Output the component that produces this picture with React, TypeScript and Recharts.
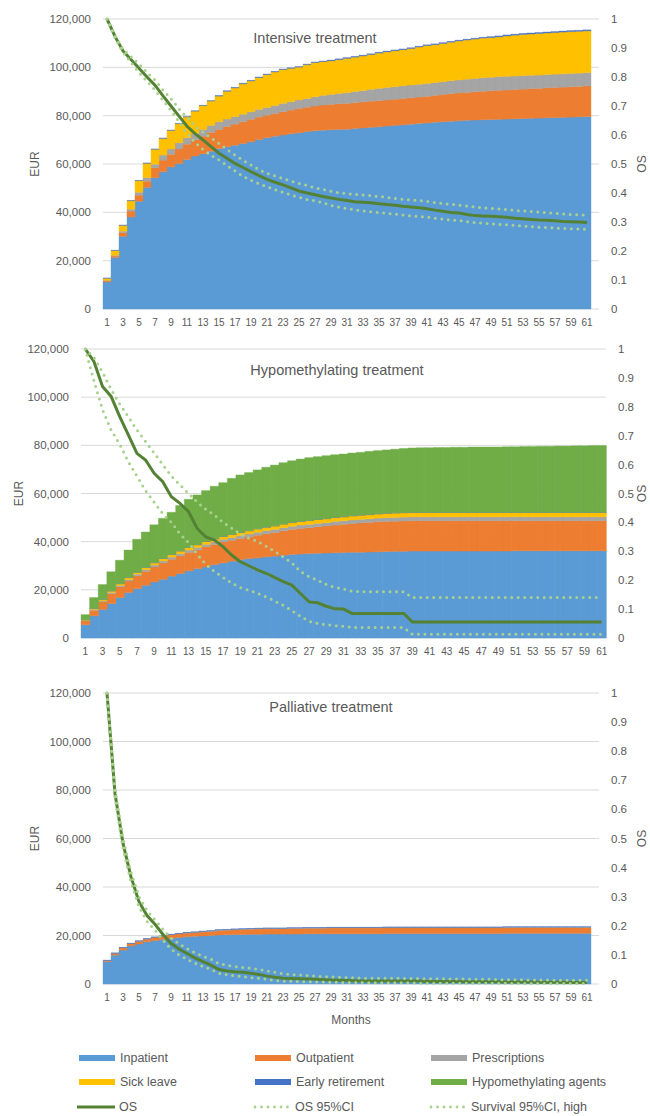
import React from 'react';
import { ComposedChart, Bar, Line, XAxis, YAxis, CartesianGrid } from 'recharts';

// cost values are cumulative EUR per patient, in thousands
const months = Array.from({ length: 61 }, (_, i) => String(i + 1));
const eurTicks = [0, 20, 40, 60, 80, 100, 120];
const osTicks = [0, 0.1, 0.2, 0.3, 0.4, 0.5, 0.6, 0.7, 0.8, 0.9, 1];

// ---- Intensive treatment
const intInpatient = [
	11.2, 21.3, 30.1, 38.1, 44.6, 50.3, 54.3, 56.8, 58.8, 60.2,
	61.9, 63.3, 64.2, 65.3, 66.4, 67.1, 67.8, 68.5, 69.2, 70.1,
	70.9, 71.5, 72.0, 72.5, 72.9, 73.4, 73.8, 74.0, 74.2, 74.3,
	74.4, 74.7, 74.9, 75.2, 75.4, 75.7, 76.0, 76.2, 76.5, 76.8,
	77.0, 77.3, 77.5, 77.7, 77.9, 78.1, 78.2, 78.3, 78.4, 78.5,
	78.6, 78.7, 78.8, 78.9, 79.0, 79.1, 79.2, 79.3, 79.4, 79.5, 79.6,
];
const intOutpatient = [
	0.5, 0.6, 1.5, 2.4, 2.5, 2.6, 4.1, 4.8, 5.2, 6.0,
	6.3, 6.7, 7.3, 7.7, 7.9, 8.4, 8.7, 9.0, 9.3, 9.3,
	9.3, 9.4, 9.6, 9.8, 10.1, 10.1, 10.2, 10.4, 10.5, 10.6,
	10.7, 10.7, 10.8, 10.8, 10.8, 10.8, 10.8, 10.9, 10.9, 10.9,
	11.0, 11.1, 11.3, 11.4, 11.5, 11.5, 11.7, 11.8, 11.9, 12.0,
	12.0, 12.1, 12.2, 12.3, 12.3, 12.4, 12.5, 12.5, 12.6, 12.6, 12.7,
];
const intPrescriptions = [
	0.2, 0.3, 0.6, 0.8, 1.2, 1.5, 1.5, 2.1, 2.2, 2.6,
	2.7, 2.7, 2.8, 3.0, 3.2, 3.1, 3.1, 3.1, 3.1, 3.2,
	3.2, 3.3, 3.5, 3.5, 3.5, 3.6, 3.8, 4.0, 4.1, 4.3,
	4.4, 4.6, 4.7, 4.9, 5.1, 5.2, 5.2, 5.3, 5.3, 5.3,
	5.3, 5.3, 5.3, 5.4, 5.4, 5.5, 5.5, 5.6, 5.6, 5.7,
	5.7, 5.6, 5.6, 5.5, 5.5, 5.5, 5.5, 5.5, 5.5, 5.5, 5.5,
];
const intSickLeave = [
	0.8, 2.0, 2.4, 3.5, 4.8, 5.9, 6.2, 6.9, 7.7, 7.9,
	8.6, 9.2, 9.9, 10.1, 10.6, 11.5, 11.9, 12.6, 12.8, 13.2,
	13.6, 13.9, 14.0, 13.8, 13.6, 14.0, 14.2, 14.0, 13.9, 14.0,
	14.2, 14.2, 14.3, 14.4, 14.6, 14.7, 14.9, 14.9, 15.1, 15.4,
	15.7, 15.7, 15.8, 15.9, 16.1, 16.2, 16.3, 16.4, 16.4, 16.4,
	16.7, 16.9, 17.0, 17.1, 17.2, 17.2, 17.2, 17.3, 17.3, 17.3, 17.3,
];
const intEarlyRetirement = [
	0.1, 0.1, 0.1, 0.1, 0.1, 0.1, 0.1, 0.1, 0.1, 0.1,
	0.1, 0.1, 0.1, 0.1, 0.2, 0.2, 0.2, 0.2, 0.2, 0.2,
	0.2, 0.2, 0.2, 0.2, 0.2, 0.2, 0.2, 0.2, 0.3, 0.3,
	0.3, 0.3, 0.3, 0.3, 0.3, 0.3, 0.3, 0.3, 0.3, 0.3,
	0.3, 0.3, 0.3, 0.3, 0.3, 0.3, 0.3, 0.3, 0.4, 0.4,
	0.4, 0.4, 0.4, 0.4, 0.4, 0.4, 0.4, 0.4, 0.4, 0.4, 0.4,
];
const intHma = [
	0, 0, 0, 0, 0, 0, 0, 0, 0, 0, 0, 0, 0, 0, 0, 0, 0, 0, 0, 0,
	0, 0, 0, 0, 0, 0, 0, 0, 0, 0, 0, 0, 0, 0, 0, 0, 0, 0, 0, 0,
	0, 0, 0, 0, 0, 0, 0, 0, 0, 0, 0, 0, 0, 0, 0, 0, 0, 0, 0, 0, 0,
];
const intOs = [
	1.0, 0.94, 0.89, 0.86, 0.83, 0.8, 0.772, 0.735, 0.7, 0.665,
	0.63, 0.605, 0.583, 0.56, 0.537, 0.52, 0.502, 0.488, 0.474, 0.46,
	0.447, 0.437, 0.428, 0.418, 0.407, 0.4, 0.394, 0.388, 0.383, 0.378,
	0.374, 0.37, 0.368, 0.366, 0.363, 0.36, 0.358, 0.354, 0.352, 0.349,
	0.346, 0.341, 0.337, 0.333, 0.331, 0.326, 0.322, 0.321, 0.32, 0.318,
	0.316, 0.313, 0.311, 0.309, 0.307, 0.306, 0.304, 0.302, 0.301, 0.3, 0.298,
];
const intOsLow = [
	1.0, 0.935, 0.885, 0.85, 0.815, 0.785, 0.755, 0.72, 0.685, 0.645,
	0.605, 0.575, 0.55, 0.53, 0.514, 0.495, 0.476, 0.458, 0.444, 0.432,
	0.422, 0.411, 0.402, 0.393, 0.385, 0.378, 0.373, 0.366, 0.357, 0.351,
	0.346, 0.342, 0.338, 0.335, 0.332, 0.33, 0.327, 0.324, 0.321, 0.319,
	0.317, 0.313, 0.31, 0.307, 0.305, 0.301, 0.298, 0.296, 0.294, 0.292,
	0.29, 0.288, 0.286, 0.284, 0.282, 0.281, 0.279, 0.278, 0.277, 0.276, 0.275,
];
const intOsHigh = [
	1.0, 0.945, 0.895, 0.87, 0.845, 0.815, 0.79, 0.755, 0.725, 0.69,
	0.66, 0.63, 0.61, 0.59, 0.571, 0.55, 0.531, 0.513, 0.497, 0.48,
	0.468, 0.459, 0.45, 0.441, 0.433, 0.426, 0.418, 0.412, 0.406, 0.401,
	0.398, 0.395, 0.393, 0.391, 0.388, 0.385, 0.381, 0.378, 0.376, 0.374,
	0.371, 0.367, 0.364, 0.361, 0.358, 0.355, 0.352, 0.349, 0.347, 0.345,
	0.343, 0.34, 0.338, 0.336, 0.334, 0.332, 0.33, 0.328, 0.326, 0.325, 0.323,
];

// ---- Hypomethylating treatment
const hypInpatient = [
	5.5, 9.2, 11.9, 14.3, 16.8, 18.9, 20.5, 21.9, 23.3, 24.4,
	25.7, 26.8, 27.9, 28.8, 29.5, 30.5, 31.2, 31.9, 32.6, 33.0,
	33.3, 33.7, 34.0, 34.4, 34.7, 34.9, 35.1, 35.2, 35.3, 35.4,
	35.5, 35.6, 35.6, 35.7, 35.8, 35.9, 36.0, 36.0, 36.1, 36.1,
	36.1, 36.1, 36.1, 36.1, 36.1, 36.1, 36.1, 36.1, 36.1, 36.1,
	36.2, 36.2, 36.2, 36.2, 36.2, 36.2, 36.2, 36.2, 36.2, 36.2, 36.2,
];
const hypOutpatient = [
	1.6, 2.3, 3.1, 4.1, 4.4, 4.8, 5.3, 5.8, 6.2, 6.8,
	7.0, 7.3, 7.6, 7.8, 8.4, 8.3, 8.7, 8.7, 8.7, 9.0,
	9.4, 9.6, 9.8, 10.1, 10.4, 10.6, 10.7, 11.0, 11.2, 11.5,
	11.7, 11.9, 12.2, 12.3, 12.5, 12.5, 12.5, 12.6, 12.6, 12.6,
	12.6, 12.6, 12.6, 12.6, 12.6, 12.6, 12.6, 12.6, 12.6, 12.6,
	12.5, 12.5, 12.5, 12.5, 12.5, 12.5, 12.5, 12.5, 12.5, 12.5, 12.5,
];
const hypPrescriptions = [
	0.2, 0.3, 0.4, 0.5, 0.6, 0.6, 0.7, 0.7, 0.8, 0.8,
	0.9, 0.9, 1.0, 1.0, 1.0, 1.1, 1.1, 1.1, 1.2, 1.2,
	1.2, 1.3, 1.3, 1.3, 1.3, 1.4, 1.4, 1.4, 1.4, 1.5,
	1.5, 1.5, 1.5, 1.5, 1.5, 1.6, 1.6, 1.6, 1.6, 1.6,
	1.6, 1.6, 1.6, 1.6, 1.6, 1.6, 1.6, 1.6, 1.6, 1.6,
	1.6, 1.6, 1.6, 1.6, 1.6, 1.6, 1.6, 1.6, 1.6, 1.6, 1.6,
];
const hypSickLeave = [
	0.2, 0.4, 0.5, 0.6, 0.7, 0.8, 0.8, 0.9, 0.9, 1.0,
	1.0, 1.1, 1.1, 1.1, 1.2, 1.2, 1.2, 1.3, 1.3, 1.3,
	1.4, 1.4, 1.4, 1.5, 1.5, 1.5, 1.5, 1.6, 1.6, 1.6,
	1.6, 1.7, 1.7, 1.7, 1.7, 1.8, 1.8, 1.8, 1.8, 1.8,
	1.8, 1.8, 1.8, 1.8, 1.8, 1.8, 1.8, 1.8, 1.8, 1.8,
	1.8, 1.8, 1.8, 1.8, 1.8, 1.8, 1.8, 1.8, 1.8, 1.8, 1.8,
];
const hypEarlyRetirement = [
	0.1, 0.1, 0.1, 0.1, 0.1, 0.1, 0.1, 0.1, 0.1, 0.1, 0.1, 0.1, 0.1, 0.1, 0.1, 0.1, 0.1, 0.1, 0.1, 0.1,
	0.1, 0.1, 0.1, 0.1, 0.1, 0.1, 0.1, 0.1, 0.1, 0.1, 0.1, 0.1, 0.1, 0.1, 0.1, 0.1, 0.1, 0.1, 0.1, 0.1,
	0.1, 0.1, 0.1, 0.1, 0.1, 0.1, 0.1, 0.1, 0.1, 0.1, 0.1, 0.1, 0.1, 0.1, 0.1, 0.1, 0.1, 0.1, 0.1, 0.1, 0.1,
];
const hypHma = [
	2.1, 4.5, 6.2, 7.9, 9.7, 11.3, 13.6, 14.6, 15.7, 16.6,
	17.5, 18.8, 19.9, 20.6, 21.0, 21.8, 22.2, 23.2, 23.8, 24.1,
	24.4, 24.8, 25.2, 25.4, 25.6, 25.8, 26.1, 26.0, 26.1, 26.0,
	26.0, 26.0, 26.0, 26.2, 26.2, 26.2, 26.4, 26.6, 26.7, 26.8,
	26.8, 26.9, 26.9, 27.0, 27.0, 27.1, 27.1, 27.1, 27.1, 27.2,
	27.2, 27.3, 27.3, 27.4, 27.4, 27.5, 27.5, 27.6, 27.6, 27.7, 27.7,
];
const hypOs = [
	1.0, 0.957, 0.87, 0.836, 0.766, 0.703, 0.639, 0.616, 0.57, 0.541,
	0.489, 0.466, 0.437, 0.379, 0.35, 0.339, 0.316, 0.287, 0.264, 0.25,
	0.236, 0.224, 0.21, 0.195, 0.183, 0.154, 0.125, 0.122, 0.11, 0.101,
	0.1, 0.085, 0.085, 0.085, 0.085, 0.085, 0.085, 0.085, 0.055, 0.055,
	0.055, 0.055, 0.055, 0.055, 0.055, 0.055, 0.055, 0.055, 0.055, 0.055,
	0.055, 0.055, 0.055, 0.055, 0.055, 0.055, 0.055, 0.055, 0.055, 0.055, 0.055,
];
const hypOsLow = [
	1.0, 0.89, 0.79, 0.72, 0.67, 0.61, 0.56, 0.51, 0.47, 0.43,
	0.4, 0.36, 0.33, 0.29, 0.255, 0.23, 0.21, 0.19, 0.175, 0.165,
	0.155, 0.142, 0.128, 0.113, 0.095, 0.075, 0.058, 0.05, 0.046, 0.043,
	0.04, 0.037, 0.036, 0.036, 0.036, 0.036, 0.036, 0.036, 0.013, 0.013,
	0.013, 0.013, 0.013, 0.013, 0.013, 0.013, 0.013, 0.013, 0.013, 0.013,
	0.013, 0.013, 0.013, 0.013, 0.013, 0.013, 0.013, 0.013, 0.013, 0.013, 0.013,
];
const hypOsHigh = [
	1.0, 0.97, 0.92, 0.86, 0.81, 0.765, 0.72, 0.68, 0.64, 0.6,
	0.56, 0.53, 0.5, 0.47, 0.445, 0.425, 0.4, 0.38, 0.36, 0.345,
	0.335, 0.318, 0.3, 0.28, 0.26, 0.23, 0.212, 0.2, 0.185, 0.175,
	0.17, 0.162, 0.16, 0.16, 0.16, 0.16, 0.16, 0.16, 0.14, 0.14,
	0.14, 0.14, 0.14, 0.14, 0.14, 0.14, 0.14, 0.14, 0.14, 0.14,
	0.14, 0.14, 0.14, 0.14, 0.14, 0.14, 0.14, 0.14, 0.14, 0.14, 0.14,
];

// ---- Palliative treatment
const palInpatient = [
	9.2, 11.9, 14.0, 15.7, 16.5, 17.4, 17.9, 18.4, 18.8, 19.2,
	19.5, 19.7, 19.8, 20.0, 20.2, 20.3, 20.4, 20.4, 20.5, 20.5,
	20.6, 20.6, 20.6, 20.6, 20.6, 20.7, 20.7, 20.7, 20.7, 20.7,
	20.7, 20.7, 20.7, 20.7, 20.7, 20.8, 20.8, 20.8, 20.8, 20.8,
	20.8, 20.8, 20.8, 20.8, 20.8, 20.8, 20.8, 20.8, 20.8, 20.8,
	20.9, 20.9, 20.9, 20.9, 20.9, 20.9, 20.9, 20.9, 20.9, 20.9, 20.9,
];
const palOutpatient = [
	0.4, 0.7, 0.9, 0.9, 1.1, 1.1, 1.3, 1.3, 1.5, 1.5,
	1.5, 1.5, 1.7, 1.7, 1.9, 1.9, 2.0, 2.1, 2.1, 2.2,
	2.2, 2.2, 2.2, 2.3, 2.3, 2.3, 2.3, 2.3, 2.4, 2.4,
	2.4, 2.4, 2.4, 2.4, 2.4, 2.4, 2.4, 2.4, 2.4, 2.4,
	2.4, 2.4, 2.4, 2.4, 2.4, 2.4, 2.4, 2.4, 2.4, 2.4,
	2.4, 2.4, 2.4, 2.4, 2.4, 2.4, 2.4, 2.4, 2.4, 2.4, 2.4,
];
const palPrescriptions = [
	0.1, 0.1, 0.1, 0.1, 0.1, 0.1, 0.1, 0.1, 0.1, 0.1, 0.2, 0.2, 0.2, 0.2, 0.2, 0.2, 0.2, 0.2, 0.2, 0.2,
	0.2, 0.2, 0.2, 0.2, 0.2, 0.2, 0.2, 0.2, 0.2, 0.2, 0.2, 0.2, 0.2, 0.2, 0.2, 0.2, 0.2, 0.2, 0.2, 0.2,
	0.2, 0.2, 0.2, 0.2, 0.2, 0.2, 0.2, 0.2, 0.2, 0.2, 0.2, 0.2, 0.2, 0.2, 0.2, 0.2, 0.2, 0.2, 0.2, 0.2, 0.2,
];
const palSickLeave = [
	0, 0, 0, 0, 0, 0, 0, 0, 0, 0, 0, 0, 0, 0, 0, 0, 0, 0, 0, 0,
	0, 0, 0, 0, 0, 0, 0, 0, 0, 0, 0, 0, 0, 0, 0, 0, 0, 0, 0, 0,
	0, 0, 0, 0, 0, 0, 0, 0, 0, 0, 0, 0, 0, 0, 0, 0, 0, 0, 0, 0, 0,
];
const palEarlyRetirement = [
	0.1, 0.1, 0.1, 0.1, 0.1, 0.1, 0.1, 0.1, 0.1, 0.1, 0.1, 0.1, 0.1, 0.1, 0.1, 0.1, 0.1, 0.1, 0.1, 0.1,
	0.1, 0.1, 0.1, 0.1, 0.1, 0.1, 0.1, 0.1, 0.1, 0.1, 0.1, 0.1, 0.1, 0.1, 0.1, 0.1, 0.1, 0.1, 0.1, 0.1,
	0.1, 0.1, 0.1, 0.1, 0.1, 0.1, 0.1, 0.1, 0.1, 0.1, 0.1, 0.1, 0.1, 0.1, 0.1, 0.1, 0.1, 0.1, 0.1, 0.1, 0.1,
];
const palHma = intHma;
const palOs = [
	1.0, 0.654, 0.483, 0.368, 0.283, 0.235, 0.205, 0.17, 0.14, 0.12,
	0.105, 0.09, 0.077, 0.065, 0.05, 0.045, 0.042, 0.04, 0.037, 0.033,
	0.027, 0.023, 0.02, 0.019, 0.018, 0.017, 0.016, 0.015, 0.014, 0.013,
	0.012, 0.011, 0.01, 0.01, 0.01, 0.01, 0.01, 0.01, 0.01, 0.01,
	0.009, 0.009, 0.009, 0.009, 0.009, 0.008, 0.008, 0.008, 0.008, 0.008,
	0.007, 0.007, 0.007, 0.007, 0.006, 0.006, 0.006, 0.006, 0.005, 0.005, 0.005,
];
const palOsLow = [
	1.0, 0.64, 0.465, 0.35, 0.265, 0.215, 0.185, 0.15, 0.12, 0.1,
	0.085, 0.072, 0.06, 0.05, 0.037, 0.032, 0.028, 0.025, 0.022, 0.02,
	0.016, 0.012, 0.01, 0.009, 0.008, 0.008, 0.007, 0.007, 0.006, 0.006,
	0.005, 0.005, 0.005, 0.004, 0.004, 0.004, 0.004, 0.004, 0.004, 0.003,
	0.003, 0.003, 0.003, 0.003, 0.003, 0.003, 0.003, 0.003, 0.003, 0.003,
	0.002, 0.002, 0.002, 0.002, 0.002, 0.002, 0.002, 0.002, 0.002, 0.002, 0.002,
];
const palOsHigh = [
	1.0, 0.67, 0.5, 0.385, 0.3, 0.252, 0.22, 0.188, 0.158, 0.138,
	0.122, 0.107, 0.095, 0.085, 0.07, 0.064, 0.06, 0.057, 0.054, 0.05,
	0.045, 0.04, 0.035, 0.033, 0.031, 0.029, 0.027, 0.025, 0.024, 0.023,
	0.022, 0.021, 0.02, 0.02, 0.02, 0.02, 0.02, 0.019, 0.019, 0.019,
	0.018, 0.018, 0.018, 0.017, 0.017, 0.017, 0.016, 0.016, 0.016, 0.015,
	0.015, 0.015, 0.014, 0.014, 0.014, 0.014, 0.013, 0.013, 0.013, 0.013, 0.013,
];

const SERIES = [
	{ key: 'inpatient', name: 'Inpatient', color: '#5B9BD5' },
	{ key: 'outpatient', name: 'Outpatient', color: '#ED7D31' },
	{ key: 'prescriptions', name: 'Prescriptions', color: '#A5A5A5' },
	{ key: 'sickLeave', name: 'Sick leave', color: '#FFC000' },
	{ key: 'earlyRetirement', name: 'Early retirement', color: '#4472C4' },
	{ key: 'hma', name: 'Hypomethylating agents', color: '#70AD47' },
];

const OS_COLOR = '#548235';
const CI_COLOR = '#A9D18E';
const TEXT = '#595959';
const FONT = "'Liberation Sans', Arial, sans-serif";

const buildRows = (cols: Record<string, number[]>) =>
	months.map((m, i) => {
		const row: Record<string, any> = { month: m };
		Object.keys(cols).forEach((k) => (row[k] = cols[k][i]));
		return row;
	});

const intensiveRows = buildRows({
	inpatient: intInpatient, outpatient: intOutpatient, prescriptions: intPrescriptions,
	sickLeave: intSickLeave, earlyRetirement: intEarlyRetirement, hma: intHma,
	os: intOs, osLow: intOsLow, osHigh: intOsHigh,
});
const hypoRows = buildRows({
	inpatient: hypInpatient, outpatient: hypOutpatient, prescriptions: hypPrescriptions,
	sickLeave: hypSickLeave, earlyRetirement: hypEarlyRetirement, hma: hypHma,
	os: hypOs, osLow: hypOsLow, osHigh: hypOsHigh,
});
const palliativeRows = buildRows({
	inpatient: palInpatient, outpatient: palOutpatient, prescriptions: palPrescriptions,
	sickLeave: palSickLeave, earlyRetirement: palEarlyRetirement, hma: palHma,
	os: palOs, osLow: palOsLow, osHigh: palOsHigh,
});

const fmtEur = (v: number) => (v * 1000).toLocaleString('en-US');
const fmtOs = (v: number) => String(Number(v.toFixed(1)));

type PanelProps = {
	rows: any[];
	top: number;
	height: number;
	margin: { top: number; right: number; bottom: number; left: number };
	leftWidth: number;
	rightWidth: number;
	padRight: number;
	osOffset: number;
	xHeight: number;
	months?: boolean;
	title: string;
	titleX: number;
	titleY: number;
};

function Panel(p: PanelProps) {
	return (
		<div style={{ position: 'absolute', left: 0, top: p.top, width: 650, height: p.height }}>
			<ComposedChart
				width={650}
				height={p.height}
				data={p.rows}
				margin={p.margin}
				barCategoryGap={0}
				barGap={0}
			>
				<CartesianGrid vertical={false} stroke='#d9d9d9' yAxisId='eur' />
				<XAxis
					dataKey='month'
					interval={1}
					axisLine={false}
					tickLine={false}
					tickMargin={4}
					height={p.xHeight}
					padding={{ left: 0, right: p.padRight }}
					tick={{ fill: TEXT, fontSize: 10, fontFamily: FONT }}
					label={
						p.months
							? { value: 'Months', position: 'insideBottom', offset: 6, style: { fill: TEXT, fontSize: 12, fontFamily: FONT } }
							: undefined
					}
				/>
				<YAxis
					yAxisId='eur'
					width={p.leftWidth}
					domain={[0, 120]}
					ticks={eurTicks}
					tickFormatter={fmtEur}
					axisLine={false}
					tickLine={false}
					tickSize={6}
					tickMargin={6}
					tick={{ fill: TEXT, fontSize: 11.5, fontFamily: FONT }}
					label={{
						value: 'EUR',
						angle: -90,
						position: 'insideLeft',
						offset: 5,
						style: { textAnchor: 'middle', fill: TEXT, fontSize: 12, fontFamily: FONT },
					}}
				/>
				<YAxis
					yAxisId='os'
					orientation='right'
					width={p.rightWidth}
					domain={[0, 1]}
					ticks={osTicks}
					tickFormatter={fmtOs}
					axisLine={false}
					tickLine={false}
					tickSize={6}
					tickMargin={6}
					tick={{ fill: TEXT, fontSize: 11.5, fontFamily: FONT, textAnchor: 'start' }}
					label={{
						value: 'OS',
						angle: -90,
						position: 'insideRight',
						offset: p.osOffset,
						style: { textAnchor: 'middle', fill: TEXT, fontSize: 12, fontFamily: FONT },
					}}
				/>
				{SERIES.map((s) => (
					<Bar
						key={s.key}
						yAxisId='eur'
						dataKey={s.key}
						name={s.name}
						stackId='cost'
						fill={s.color}
						stroke={s.color}
						strokeWidth={0.4}
						isAnimationActive={false}
					/>
				))}
				<Line yAxisId='os' dataKey='os' name='OS' type='linear' stroke={OS_COLOR} strokeWidth={3} dot={false} isAnimationActive={false} />
				<Line
					yAxisId='os'
					dataKey='osLow'
					name='OS 95%CI'
					type='linear'
					stroke={CI_COLOR}
					strokeWidth={3}
					strokeDasharray='0 6.5'
					strokeLinecap='round'
					dot={false}
					isAnimationActive={false}
				/>
				<Line
					yAxisId='os'
					dataKey='osHigh'
					name='Survival 95%CI, high'
					type='linear'
					stroke={CI_COLOR}
					strokeWidth={3}
					strokeDasharray='0 6.5'
					strokeLinecap='round'
					dot={false}
					isAnimationActive={false}
				/>
			</ComposedChart>
			<div
				style={{
					position: 'absolute',
					left: p.titleX,
					top: p.titleY - p.top,
					transform: 'translate(-50%, -50%)',
					whiteSpace: 'nowrap',
					fontFamily: FONT,
					fontSize: 14.5,
					color: TEXT,
				}}
			>
				{p.title}
			</div>
		</div>
	);
}

const legendItems = [
	{ name: 'Inpatient', kind: 'bar', color: '#5B9BD5' },
	{ name: 'Outpatient', kind: 'bar', color: '#ED7D31' },
	{ name: 'Prescriptions', kind: 'bar', color: '#A5A5A5' },
	{ name: 'Sick leave', kind: 'bar', color: '#FFC000' },
	{ name: 'Early retirement', kind: 'bar', color: '#4472C4' },
	{ name: 'Hypomethylating agents', kind: 'bar', color: '#70AD47' },
	{ name: 'OS', kind: 'line', color: OS_COLOR },
	{ name: 'OS 95%CI', kind: 'dot', color: CI_COLOR },
	{ name: 'Survival 95%CI, high', kind: 'dot', color: CI_COLOR },
];

function Swatch({ kind, color }: { kind: string; color: string }) {
	if (kind === 'bar') return <div style={{ width: 36, height: 6, background: color, marginRight: 5 }} />;
	return (
		<svg width={40} height={8} style={{ marginRight: 2 }}>
			{kind === 'line' ? (
				<line x1={0} y1={4} x2={38} y2={4} stroke={color} strokeWidth={3} />
			) : (
				<line x1={2} y1={4} x2={36} y2={4} stroke={color} strokeWidth={2.8} strokeDasharray='0 6.5' strokeLinecap='round' />
			)}
		</svg>
	);
}

export default function App() {
	const colX = [79, 255, 431];
	const rowY = [1058, 1082, 1107];
	return (
		<div style={{ position: 'absolute', left: 0, top: 0, width: 650, height: 1116, background: '#fff', overflow: 'hidden' }}>
			<Panel
				rows={intensiveRows}
				top={0}
				height={335}
				margin={{ top: 19, right: 3, bottom: 6, left: 30 }}
				leftWidth={73}
				rightWidth={48}
				padRight={8}
				osOffset={5}
				xHeight={20}
				title='Intensive treatment'
				titleX={315}
				titleY={38}
			/>
			<Panel
				rows={hypoRows}
				top={335}
				height={330}
				margin={{ top: 14, right: 0, bottom: 7, left: 14 }}
				leftWidth={67}
				rightWidth={44}
				padRight={0}
				osOffset={8}
				xHeight={20}
				title='Hypomethylating treatment'
				titleX={337}
				titleY={370}
			/>
			<Panel
				rows={palliativeRows}
				top={665}
				height={371}
				margin={{ top: 28, right: 3, bottom: 6, left: 30 }}
				leftWidth={73}
				rightWidth={48}
				padRight={8}
				osOffset={5}
				xHeight={46}
				months
				title='Palliative treatment'
				titleX={331}
				titleY={707}
			/>
			{legendItems.map((it, i) => (
				<div
					key={it.name}
					style={{
						position: 'absolute',
						left: colX[i % 3] - (it.kind === 'bar' ? 0 : 2),
						top: rowY[Math.floor(i / 3)] - 9,
						height: 18,
						display: 'flex',
						alignItems: 'center',
						fontFamily: FONT,
						fontSize: 12.5,
						color: TEXT,
						whiteSpace: 'nowrap',
					}}
				>
					<Swatch kind={it.kind} color={it.color} />
					<span>{it.name}</span>
				</div>
			))}
		</div>
	);
}
